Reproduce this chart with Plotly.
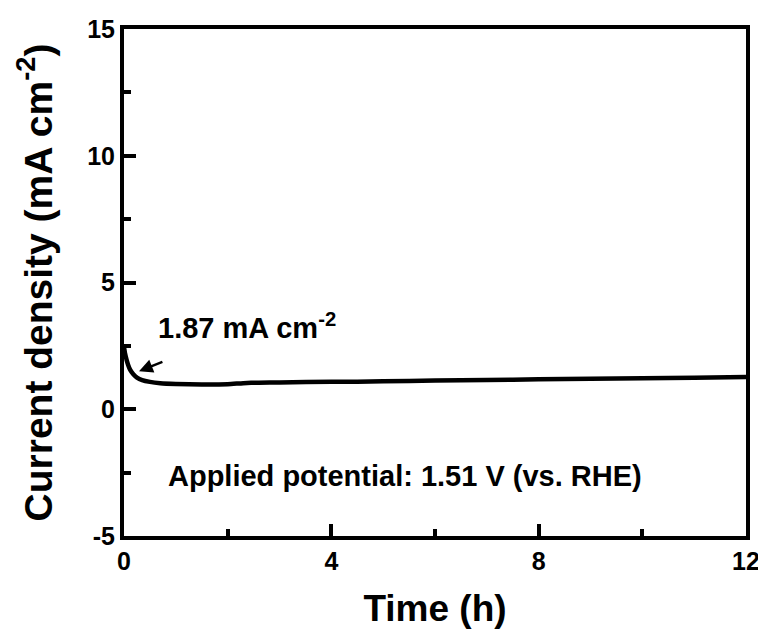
import plotly.graph_objects as go

# Data
time_h = [0, 0.02, 0.05, 0.08, 0.12, 0.18, 0.25, 0.35, 0.5, 0.7, 1.0, 1.5, 2.0, 2.3, 2.6,
          3.0, 4.0, 5.0, 6.0, 7.0, 8.0, 9.0, 10.0, 11.0, 12.0]
current = [2.45, 2.2, 1.95, 1.75, 1.55, 1.38, 1.25, 1.15, 1.08, 1.03, 1.0, 0.98, 0.99, 1.03, 1.05,
           1.06, 1.08, 1.1, 1.13, 1.15, 1.18, 1.2, 1.22, 1.24, 1.27]

x_ticks = [0, 4, 8, 12]
x_tick_labels = ["0", "4", "8", "12"]
y_ticks = [-5, 0, 5, 10, 15]
y_tick_labels = ["-5", "0", "5", "10", "15"]

FONT = "Liberation Sans, Arial, sans-serif"

fig = go.Figure()
fig.add_trace(go.Scatter(x=time_h, y=current, mode="lines",
                         line=dict(color="black", width=4.5, shape="spline", smoothing=0.6),
                         showlegend=False, hoverinfo="skip"))

fig.add_annotation(x=0.29, y=1.5, ax=0.77, ay=1.89, xref="x", yref="y", axref="x", ayref="y",
                   text="", showarrow=True, arrowhead=2, arrowsize=1.1, arrowwidth=2.5, arrowcolor="black")
fig.add_annotation(x=2.38, y=3.3, xref="x", yref="y", showarrow=False,
                   text="1.87 mA cm<sup>-2</sup>",
                   font=dict(family=FONT, size=29, color="black", weight="bold"))
fig.add_annotation(x=5.42, y=-2.64, xref="x", yref="y", showarrow=False,
                   text="Applied potential: 1.51 V (vs. RHE)",
                   font=dict(family=FONT, size=29, color="black", weight="bold"))

axis_common = dict(showgrid=False, zeroline=False, showline=True, linecolor="black", linewidth=4,
                   mirror=True, ticks="inside", tickcolor="black", tickwidth=4, ticklen=12,
                   tickfont=dict(family=FONT, size=25, color="black", weight="bold"))

fig.update_xaxes(range=[0, 12], tickvals=x_ticks, ticktext=x_tick_labels,
                 minor=dict(dtick=2, tick0=0, ticks="inside", ticklen=7, tickwidth=4, tickcolor="black"),
                 title=dict(text="Time (h)", standoff=22,
                            font=dict(family=FONT, size=37, color="black", weight="bold")),
                 **axis_common)
fig.update_yaxes(range=[-5, 15], tickvals=y_ticks, ticktext=y_tick_labels,
                 minor=dict(dtick=2.5, tick0=0, ticks="inside", ticklen=7, tickwidth=4, tickcolor="black"),
                 title=dict(text="Current density (mA cm<sup>-2</sup>)", standoff=24,
                            font=dict(family=FONT, size=39, color="black", weight="bold")),
                 **axis_common)

fig.update_layout(width=758, height=625, plot_bgcolor="white", paper_bgcolor="white",
                  margin=dict(l=116, r=20, t=21, b=97, autoexpand=False))

fig.write_html("out.html")
